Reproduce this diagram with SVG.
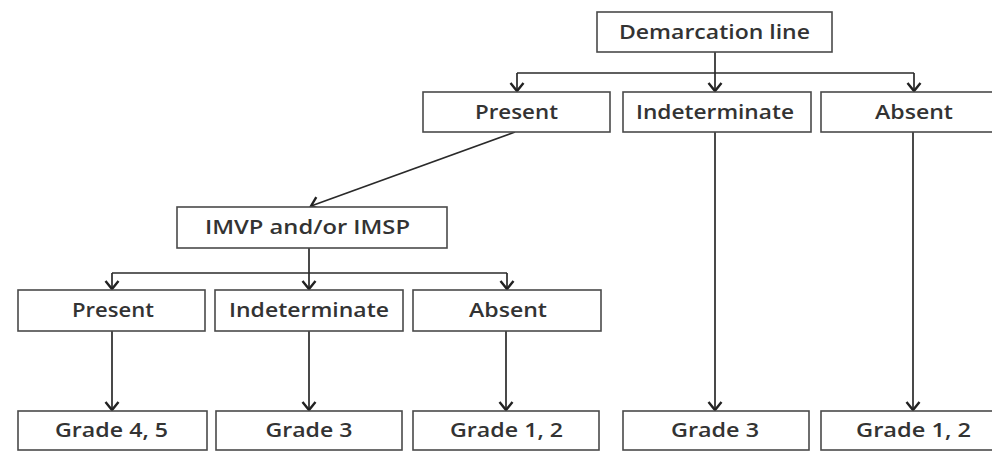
<svg xmlns="http://www.w3.org/2000/svg" width="992" height="451" viewBox="0 0 992 451">
<style>
.box{fill:#fff;stroke:#4a4a4a;stroke-width:1.6}
.t{font-family:"Open Sans","Liberation Sans",sans-serif;font-size:19px;font-weight:600;fill:#333;text-anchor:middle}
.c{fill:none;stroke:#2a2a2a;stroke-width:1.7}
</style>
<defs>
<marker id="ah" viewBox="-10 -8 12 16" refX="0" refY="0" markerWidth="12" markerHeight="16" markerUnits="userSpaceOnUse" orient="auto">
<path d="M-8,-6.5 L0,0 L-8,6.5" fill="none" stroke="#222" stroke-width="2.4"/>
</marker>
</defs>
<rect width="992" height="451" fill="#fff"/>
<g id="connectors">
<path class="c" d="M715,52 V73"/>
<path class="c" d="M517,73 H914"/>
<path class="c" d="M517,73 V91" marker-end="url(#ah)"/>
<path class="c" d="M715,73 V91" marker-end="url(#ah)"/>
<path class="c" d="M914,73 V91" marker-end="url(#ah)"/>
<path class="c" d="M515,132 L311,206" marker-end="url(#ah)"/>
<path class="c" d="M309,248 V273"/>
<path class="c" d="M112,273 H507"/>
<path class="c" d="M112,273 V289" marker-end="url(#ah)"/>
<path class="c" d="M309,273 V289" marker-end="url(#ah)"/>
<path class="c" d="M507,273 V289" marker-end="url(#ah)"/>
<path class="c" d="M112,331 V410" marker-end="url(#ah)"/>
<path class="c" d="M309,331 V410" marker-end="url(#ah)"/>
<path class="c" d="M506,331 V410" marker-end="url(#ah)"/>
<path class="c" d="M715,132 V410" marker-end="url(#ah)"/>
<path class="c" d="M913,132 V410" marker-end="url(#ah)"/>
</g>
<g id="demarcation"><rect class="box" x="597" y="12" width="235" height="40"/><text class="t" x="714.5" y="39" textLength="191" lengthAdjust="spacingAndGlyphs">Demarcation line</text></g>
<g id="present1"><rect class="box" x="423" y="92" width="187" height="40"/><text class="t" x="516.5" y="119" textLength="83" lengthAdjust="spacingAndGlyphs">Present</text></g>
<g id="indeterminate1"><rect class="box" x="623" y="92" width="188" height="40"/><text class="t" x="715" y="119" textLength="158" lengthAdjust="spacingAndGlyphs">Indeterminate</text></g>
<g id="absent1"><rect class="box" x="821" y="92" width="188" height="40"/><text class="t" x="914" y="119" textLength="78" lengthAdjust="spacingAndGlyphs">Absent</text></g>
<g id="imvp"><rect class="box" x="177" y="207" width="270" height="41"/><text class="t" x="307.5" y="234" textLength="205" lengthAdjust="spacingAndGlyphs">IMVP and/or IMSP</text></g>
<g id="present2"><rect class="box" x="18" y="290" width="187" height="41"/><text class="t" x="113" y="317" textLength="82" lengthAdjust="spacingAndGlyphs">Present</text></g>
<g id="indeterminate2"><rect class="box" x="215" y="290" width="188" height="41"/><text class="t" x="309" y="317" textLength="160" lengthAdjust="spacingAndGlyphs">Indeterminate</text></g>
<g id="absent2"><rect class="box" x="413" y="290" width="188" height="41"/><text class="t" x="508" y="317" textLength="78" lengthAdjust="spacingAndGlyphs">Absent</text></g>
<g id="grade45"><rect class="box" x="18" y="411" width="189" height="39"/><text class="t" x="111.5" y="437" textLength="113" lengthAdjust="spacingAndGlyphs">Grade 4, 5</text></g>
<g id="grade3a"><rect class="box" x="216" y="411" width="186" height="39"/><text class="t" x="309" y="437" textLength="87" lengthAdjust="spacingAndGlyphs">Grade 3</text></g>
<g id="grade12a"><rect class="box" x="413" y="411" width="186" height="39"/><text class="t" x="506.5" y="437" textLength="113" lengthAdjust="spacingAndGlyphs">Grade 1, 2</text></g>
<g id="grade3b"><rect class="box" x="623" y="411" width="186" height="39"/><text class="t" x="715" y="437" textLength="88" lengthAdjust="spacingAndGlyphs">Grade 3</text></g>
<g id="grade12b"><rect class="box" x="821" y="411" width="188" height="39"/><text class="t" x="913.5" y="437" textLength="115" lengthAdjust="spacingAndGlyphs">Grade 1, 2</text></g>
</svg>
